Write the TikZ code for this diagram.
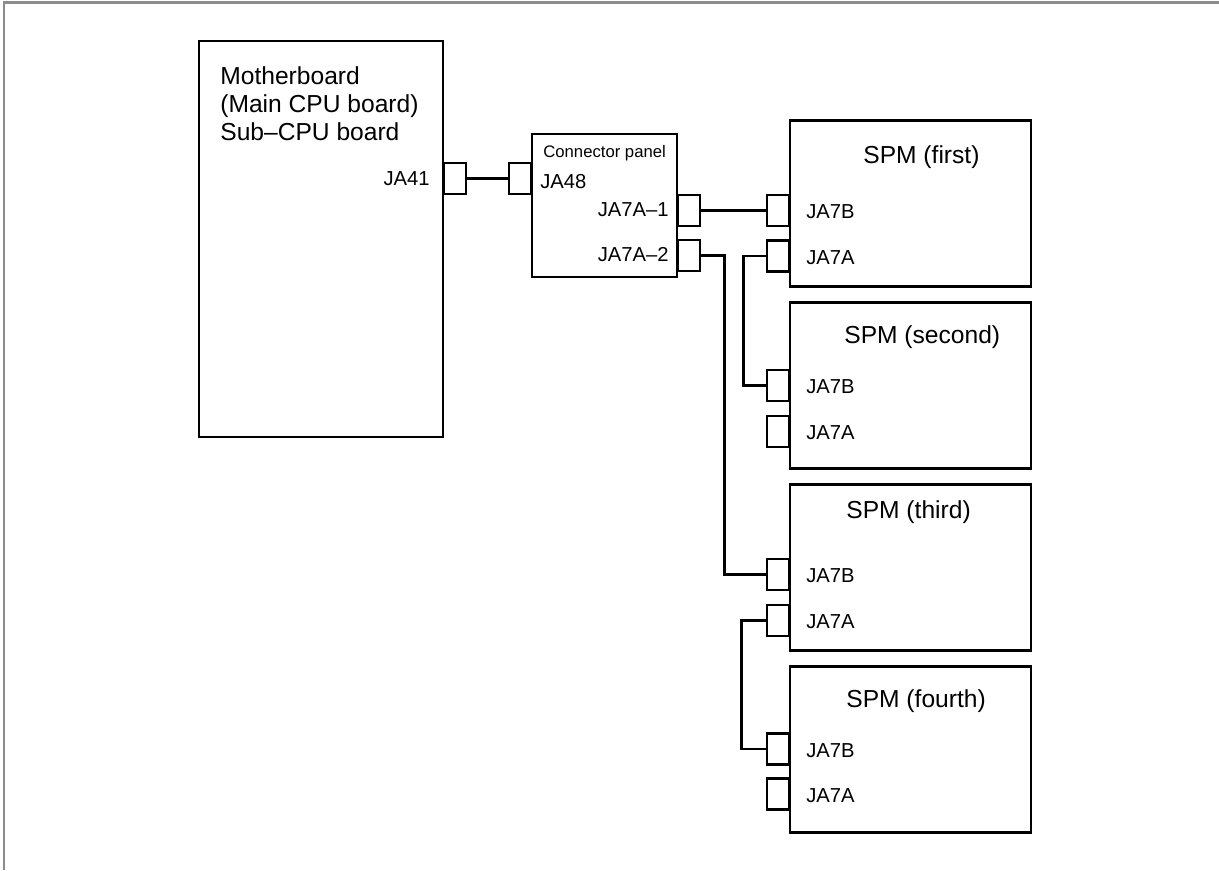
\documentclass[tikz,border=0pt]{standalone}
\usepackage{fontspec}
\setmainfont{Liberation Sans}
\usepackage{tikz}
\definecolor{framegray}{RGB}{140,140,140}
\tikzset{
  board/.style={rectangle, draw, line width=1.4pt, inner sep=0pt},
  conn/.style={rectangle, draw, line width=1.4pt, inner sep=0pt,
    minimum width=0.44cm, minimum height=0.62cm},
  cable/.style={line width=1.4pt},
  title/.style={font=\fontsize{14}{16}\selectfont, inner sep=0pt},
  pin/.style={font=\fontsize{11.5}{13}\selectfont, inner sep=0pt}
}

\begin{document}
\begin{tikzpicture}[x=0.02cm, y=-0.02cm]
  \useasboundingbox (0,0) rectangle (1219,870);
  % Page frame
  \draw[framegray, line width=1.7pt] (1219,2) -- (4,2) -- (4,870);

  % Motherboard
  \node[board, minimum width=4.88cm, minimum height=7.92cm] (mb) at (321,239) {};
  \node[title, anchor=north west, align=left] (mbtext) at (220,66)
    {Motherboard\\(Main CPU board)\\Sub--CPU board};
  \node[conn, anchor=west] (ja41) at (443,178.5) {};
  \node[pin, anchor=east] (ja41lbl) at (430,178.5) {JA41};

  % Connector panel
  \node[board, minimum width=2.9cm, minimum height=2.86cm] (panel) at (604.5,205.5) {};
  \node[inner sep=0pt, anchor=base west, font=\fontsize{9.5}{11}\selectfont] (paneltext)
    at (543,157) {Connector panel};
  \node[conn, anchor=east] (ja48) at (532,178.5) {};
  \node[pin, anchor=west] (ja48lbl) at (540,182) {JA48};
  \node[conn, anchor=west] (ja7a1) at (677,210.5) {};
  \node[pin, anchor=east] (ja7a1lbl) at (669,209.5) {JA7A--1};
  \node[conn, anchor=west] (ja7a2) at (677,255.5) {};
  \node[pin, anchor=east] (ja7a2lbl) at (669,254.5) {JA7A--2};

  % SPM (first)
  \node[board, minimum width=4.82cm, minimum height=3.32cm] (spm1) at (910.5,203.5) {};
  \node[title, anchor=base west] (spm1text) at (863,163) {SPM (first)};
  \node[conn, anchor=east] (s1b) at (790,210.5) {};
  \node[conn, anchor=east] (s1a) at (790,256) {};
  \node[pin, anchor=west] (s1blbl) at (806,212) {JA7B};
  \node[pin, anchor=west] (s1albl) at (806,257.5) {JA7A};

  % SPM (second)
  \node[board, minimum width=4.82cm, minimum height=3.32cm] (spm2) at (910.5,385.5) {};
  \node[title, anchor=base west] (spm2text) at (844,343) {SPM (second)};
  \node[conn, anchor=east] (s2b) at (790,385.5) {};
  \node[conn, anchor=east] (s2a) at (790,431.5) {};
  \node[pin, anchor=west] (s2blbl) at (806,387) {JA7B};
  \node[pin, anchor=west] (s2albl) at (806,433) {JA7A};

  % SPM (third)
  \node[board, minimum width=4.82cm, minimum height=3.32cm] (spm3) at (910.5,567.5) {};
  \node[title, anchor=base west] (spm3text) at (846,518) {SPM (third)};
  \node[conn, anchor=east] (s3b) at (790,574.5) {};
  \node[conn, anchor=east] (s3a) at (790,620.5) {};
  \node[pin, anchor=west] (s3blbl) at (806,576) {JA7B};
  \node[pin, anchor=west] (s3albl) at (806,622) {JA7A};

  % SPM (fourth)
  \node[board, minimum width=4.82cm, minimum height=3.32cm] (spm4) at (910.5,749.5) {};
  \node[title, anchor=base west] (spm4text) at (846,707) {SPM (fourth)};
  \node[conn, anchor=east] (s4b) at (790,749) {};
  \node[conn, anchor=east] (s4a) at (790,794) {};
  \node[pin, anchor=west] (s4blbl) at (806,750.5) {JA7B};
  \node[pin, anchor=west] (s4albl) at (806,795.5) {JA7A};

  % Cables
  \draw[cable] (ja41.east) -- (ja48.west);
  \draw[cable] (ja7a1.east) -- (s1b.west);
  \draw[cable] (ja7a2.east) -- ++(23,0) |- (s3b.west);
  \draw[cable] (s1a.west) -- ++(-22,0) |- (s2b.west);
  \draw[cable] (s3a.west) -- ++(-24,0) |- (s4b.west);
\end{tikzpicture}
\end{document}
